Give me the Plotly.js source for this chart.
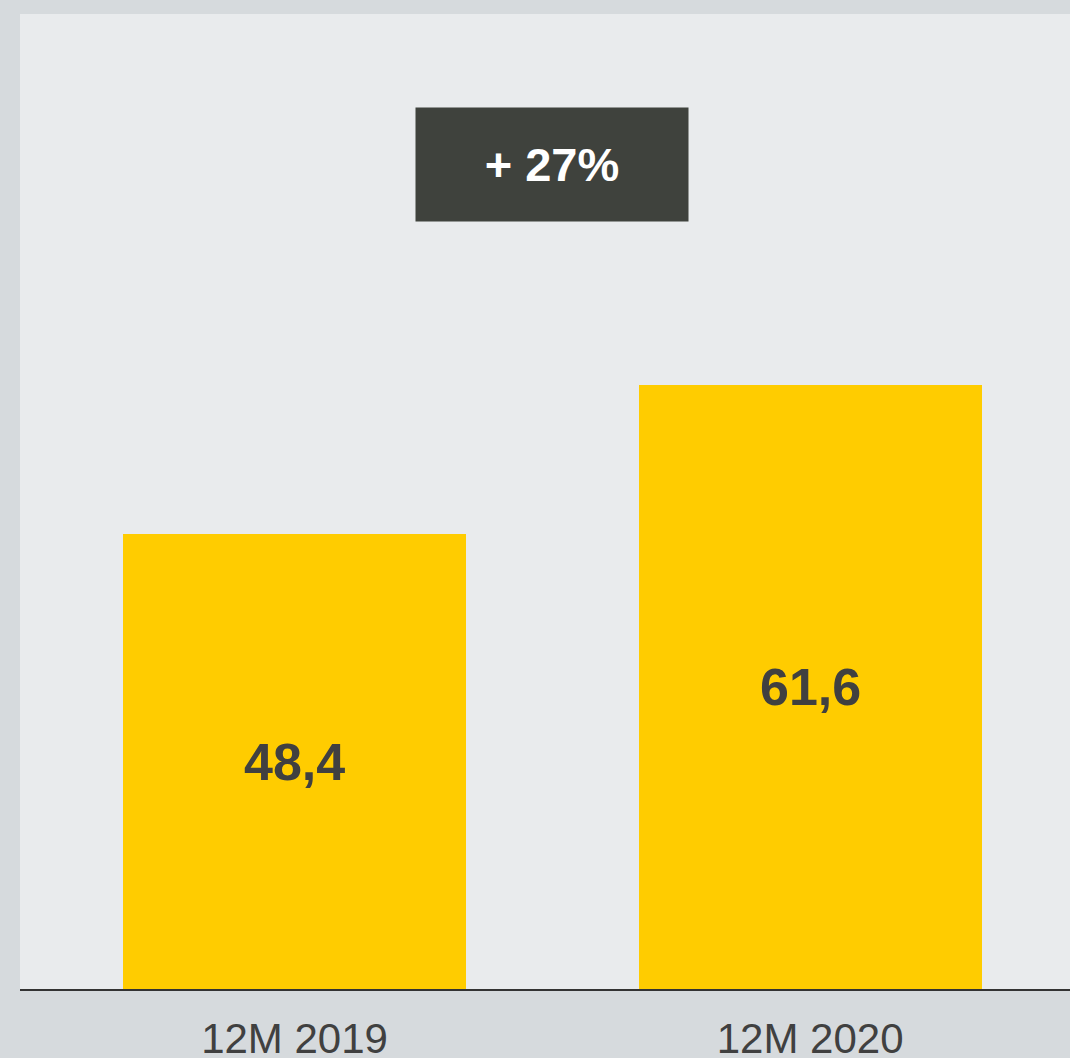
<!DOCTYPE html>
<html>
<head>
<meta charset="utf-8">
<script src="https://cdn.plot.ly/plotly-3.0.1.min.js"></script>
<style>html,body{margin:0;padding:0;background:#D6DADD;}#chart{width:1070px;height:1058px;}</style>
</head>
<body>
<div id="chart"></div>
<script>
const categories = ["12M 2019", "12M 2020"];
const values = [48.4, 61.6];
const growthLabel = "+ 27%";

const yMin = 8.09, yMax = 94.47;
const labelFont = {family: "Liberation Sans, Arial, sans-serif", size: 52, color: "#404040", weight: "bold"};

const trace = {
  type: "bar",
  x: categories,
  y: values,
  width: 0.665,
  marker: {color: "#FFCC00", line: {width: 0}},
  cliponaxis: true,
  hoverinfo: "skip"
};

// value labels centred in the visible part of each bar
const valueAnnotations = categories.map((c, i) => ({
  xref: "x", yref: "y",
  x: c, y: (values[i] + yMin) / 2,
  xanchor: "center", yanchor: "middle",
  text: "<b>" + values[i].toFixed(1).replace(".", ",") + "</b>",
  showarrow: false,
  font: labelFont
}));

const layout = {
  width: 1070,
  height: 1058,
  margin: {l: 20, r: 0, t: 14, b: 69, pad: 0},
  paper_bgcolor: "#D6DADD",
  plot_bgcolor: "#E9EBED",
  separators: ",.",
  showlegend: false,
  bargap: 0,
  xaxis: {
    type: "category",
    range: [-0.5325, 1.504],
    showline: true,
    linecolor: "#333333",
    linewidth: 1.5,
    showgrid: false,
    zeroline: false,
    ticks: "",
    ticklabelstandoff: 12,
    tickfont: {family: "Liberation Sans, Arial, sans-serif", size: 42, color: "#404040"}
  },
  yaxis: {
    range: [yMin, yMax],
    visible: false,
    showgrid: false,
    zeroline: false
  },
  annotations: valueAnnotations.concat([{
    xref: "paper", yref: "paper",
    x: 0.5067, y: 0.8457,
    xanchor: "center", yanchor: "middle",
    text: "<b>" + growthLabel + "</b>",
    showarrow: false,
    bgcolor: "#3F423D",
    width: 272, height: 113,
    borderpad: 0,
    font: {family: "Liberation Sans, Arial, sans-serif", size: 47, color: "#FFFFFF"}
  }])
};

Plotly.newPlot("chart", [trace], layout, {displayModeBar: false, staticPlot: true});
</script>
</body>
</html>
